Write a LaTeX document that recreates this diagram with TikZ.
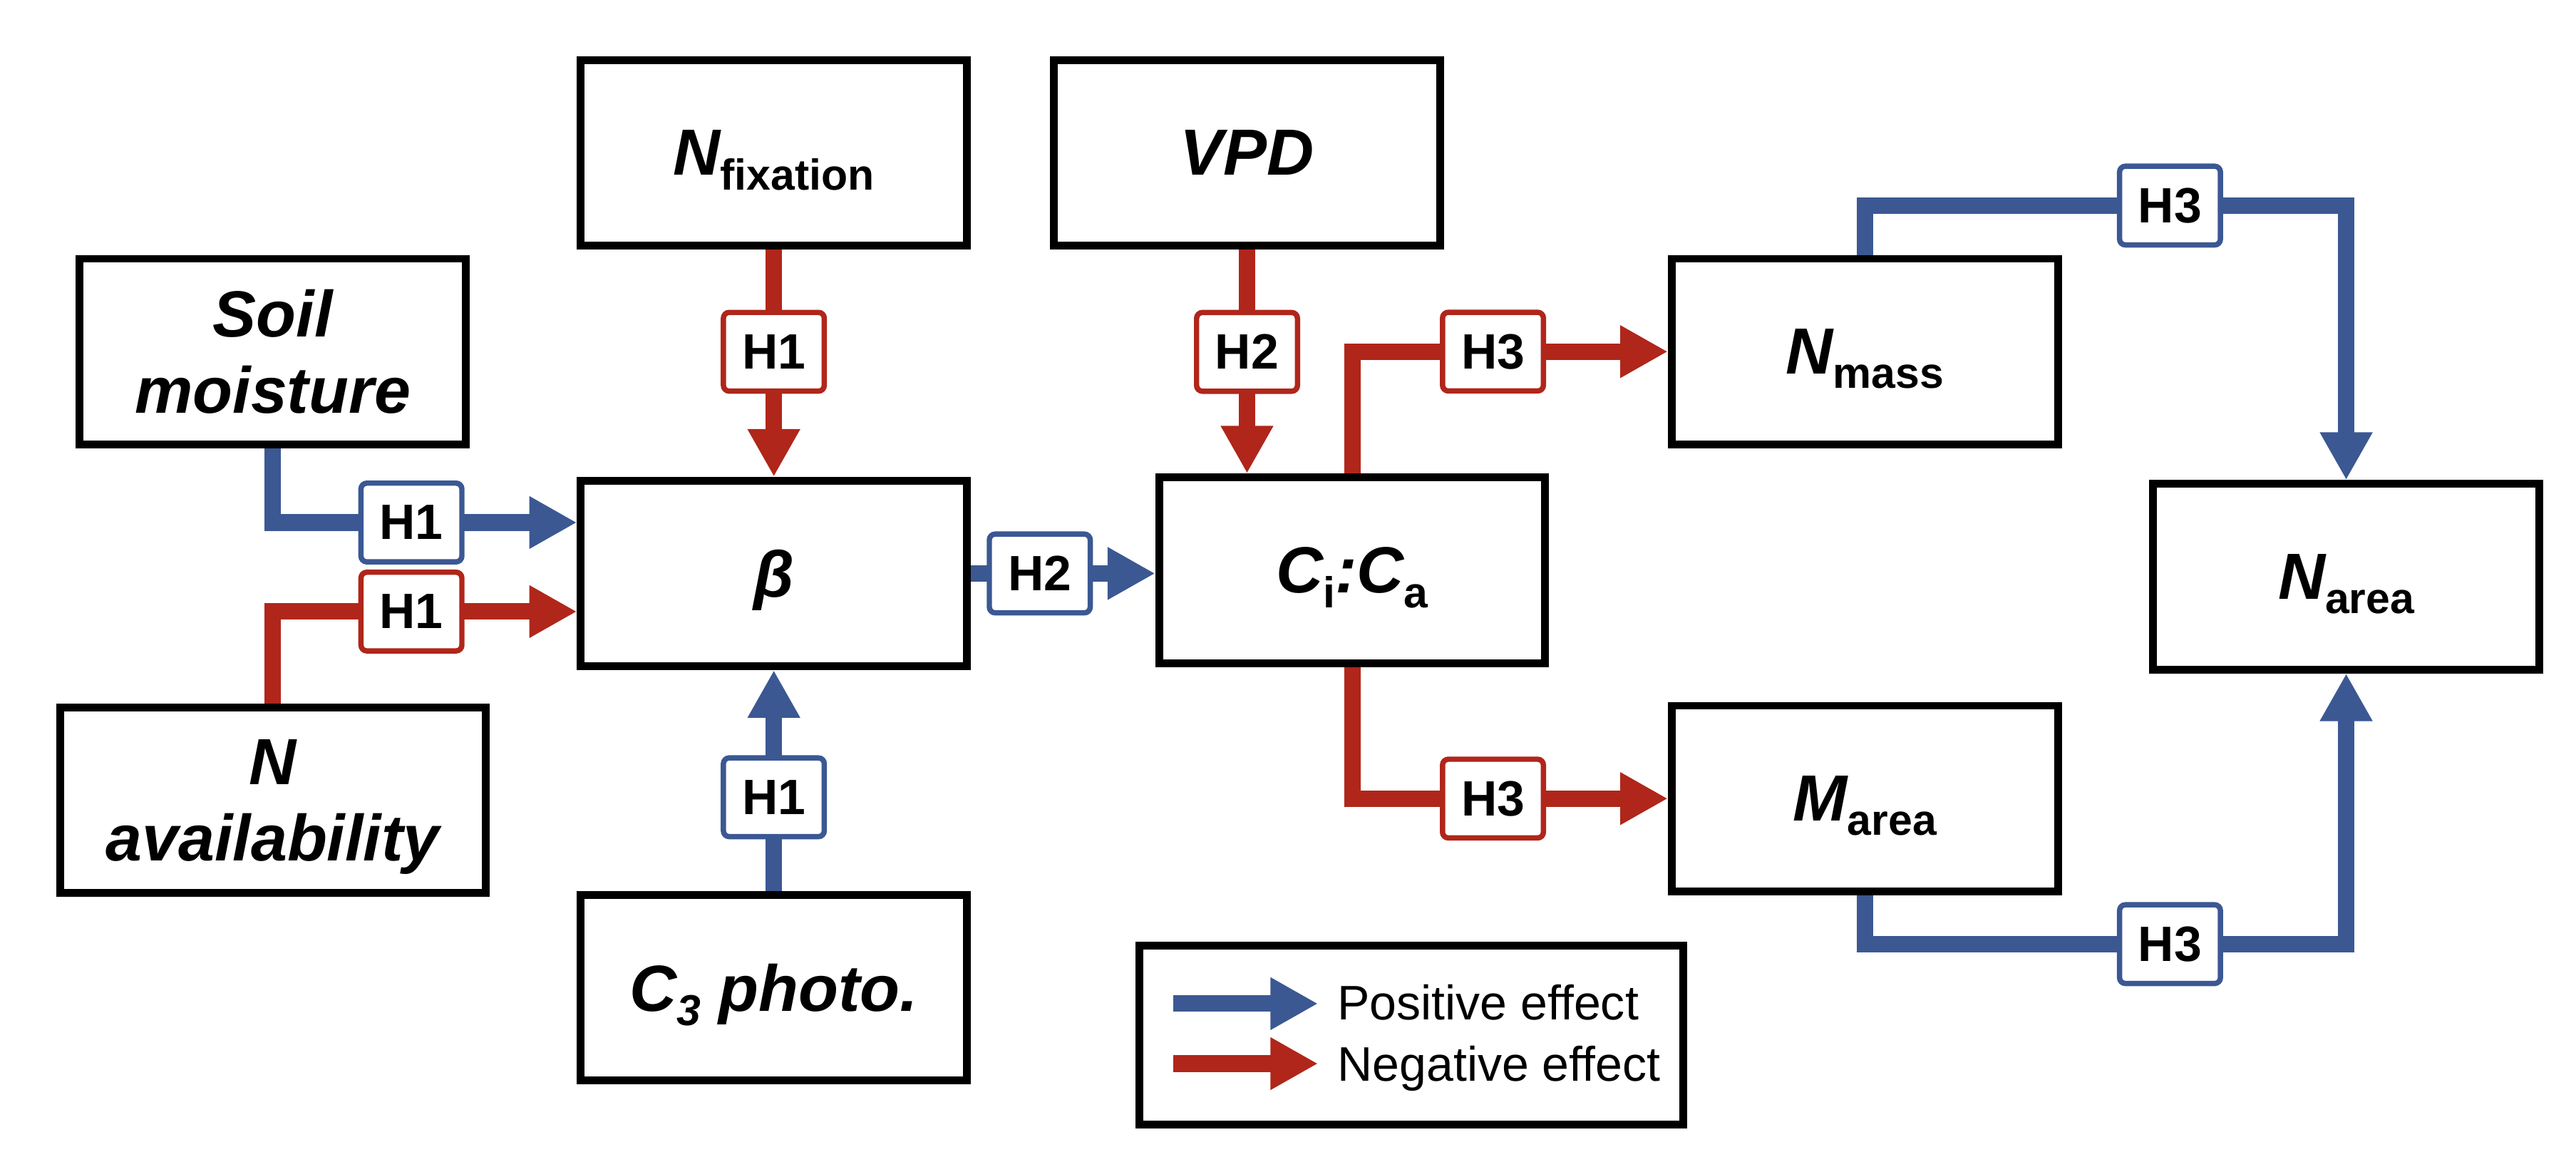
\documentclass[tikz,border=0pt]{standalone}
\usepackage{fontspec}
\setmainfont{Liberation Sans}
\usetikzlibrary{arrows.meta}
\definecolor{posblue}{RGB}{59,88,147}
\definecolor{negred}{RGB}{176,38,26}
\newcommand{\sbs}[1]{\raisebox{-2.5pt}[0pt][0pt]{\fontsize{7.5}{8}\selectfont\upshape #1}}

\begin{document}
\begin{tikzpicture}[
        box/.style={draw, line width=1.35pt, fill=white, minimum width=2.35cm, minimum height=1.13cm,
            inner sep=0pt, align=center, text depth=0pt, font=\fontsize{11.3}{13.2}\selectfont\bfseries\itshape},
        hyp/.style={draw, line width=0.92pt, rounded corners=1pt, fill=white, text=black,
            minimum width=0.614cm, minimum height=0.479cm, inner sep=0pt, font=\fontsize{8.6}{10}\selectfont\bfseries},
        arr/.style={line width=2.85pt, -{Triangle[length=2.9mm, width=3mm]}},
        posarrow/.style={arr, posblue},
        negarrow/.style={arr, negred},
        legtext/.style={anchor=base west, inner sep=0pt, font=\fontsize{8.4}{10}\selectfont}
    ]
    \useasboundingbox (0,0) rectangle (15.679,-7.037);

    % variables
    \node[box] (nfix) at (4.71,-0.93) {N\sbs{fixation}};
    \node[box] (vpd) at (7.59,-0.93) {VPD};
    \node[box] (soil) at (1.66,-2.14) {Soil\\moisture};
    \node[box, minimum width=2.59cm] (navail) at (1.66,-4.87) {N\\availability};
    \node[box] (beta) at (4.71,-3.49) {β};
    \node[box] (cthree) at (4.71,-6.01) {C\sbs{\itshape 3} photo.};
    \node[box] (cica) at (8.23,-3.47) {C\sbs{i}:C\sbs{a}};
    \node[box] (nmass) at (11.35,-2.14) {N\sbs{mass}};
    \node[box] (marea) at (11.35,-4.86) {M\sbs{area}};
    \node[box] (narea) at (14.28,-3.51) {N\sbs{area}};

    % hypotheses
    \draw[posarrow] (soil.south) |- node[hyp, pos=0.728] {H1} ([yshift=0.31cm]beta.west);
    \draw[negarrow] (navail.north) |- node[hyp, pos=0.728] {H1} ([yshift=-0.232cm]beta.west);
    \draw[negarrow] (nfix) -- node[hyp, pos=0.45] {H1} (beta);
    \draw[posarrow] (cthree) -- node[hyp, pos=0.424] {H1} (beta);
    \draw[negarrow] (vpd.south) -- node[hyp, pos=0.457] {H2} (vpd.south |- cica.north);
    \draw[posarrow] (beta.east) -- node[hyp, pos=0.374] {H2} (beta.east -| cica.west);
    \draw[negarrow] (cica.north) |- node[hyp, pos=0.723] {H3} (nmass.west);
    \draw[negarrow] (cica.south) |- node[hyp, pos=0.723] {H3} (marea.west);
    \draw[posarrow] (nmass.north) -- ++(0,0.30) -| node[hyp, pos=0.317] {H3} (narea.north);
    \draw[posarrow] (marea.south) -- ++(0,-0.297) -| node[hyp, pos=0.317] {H3} (narea.south);

    % legend
    \node[draw, line width=1.35pt, minimum width=3.31cm, minimum height=1.09cm] (legend) at (8.59,-6.30) {};
    \node[legtext] (postext) at (8.134,-6.208) {Positive effect};
    \node[legtext] (negtext) at (8.134,-6.581) {Negative effect};
    \coordinate (posA) at (7.141,-6.108);
    \coordinate (posB) at (8.022,-6.108);
    \coordinate (negA) at (7.141,-6.473);
    \coordinate (negB) at (8.022,-6.473);
    \draw[posarrow] (posA) -- (posB);
    \draw[negarrow] (negA) -- (negB);
\end{tikzpicture}
\end{document}
